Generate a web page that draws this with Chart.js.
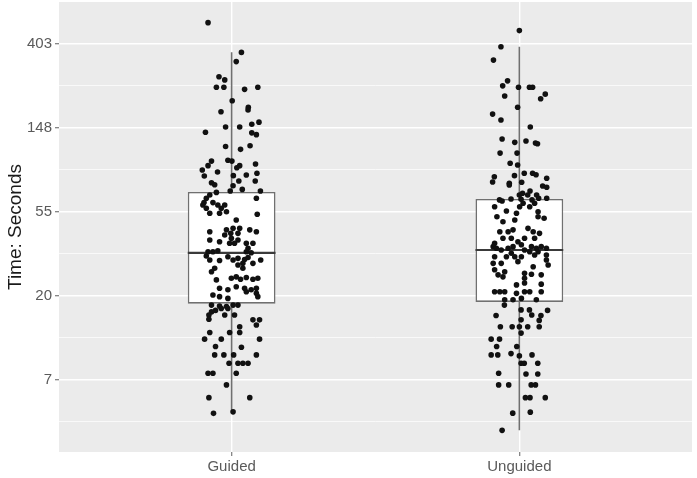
<!DOCTYPE html>
<html><head><meta charset="utf-8">
<script src="https://cdn.jsdelivr.net/npm/chart.js@4.4.1/dist/chart.umd.min.js"></script>
<style>html,body{margin:0;padding:0;background:#fff;}canvas{display:block;}</style>
</head><body>
<canvas id="c" width="697" height="478"></canvas>
<script>
const categories = ['Guided', 'Unguided'];

// Time in seconds and horizontal jitter (category units)
const guidedTimes = [520,365,327,273,263,241,241,235,241,205,190,184,180,159,155,150,150,141,140,137,
119,115,120,101,100,100,94.7,94.7,96.6,90.0,87.9,92.4,83.8,84.1,84.8,86.5,78.9,78.9,77.3,75.5,
74.6,71.4,70.1,70.1,68.9,66.8,64.2,61.0,59.3,61.0,59.3,59.3,57.0,57.0,54.7,53.7,53.7,64.2,53.1,49.6,
43.1,44.1,44.9,44.9,44.1,43.1,42.3,42.3,41.5,39.1,38.3,39.9,39.1,37.6,37.6,37.6,37.6,35.4,34.0,34.0,
34.4,34.0,33.6,32.3,30.8,30.6,32.0,30.8,31.4,31.0,31.7,30.8,29.0,29.6,29.6,27.9,27.9,26.8,24.3,24.8,
25.2,24.5,25.0,24.5,24.8,22.0,21.6,22.4,22.0,21.6,22.0,21.1,20.3,19.9,20.7,19.9,19.5,18.0,17.8,17.7,
18.0,18.0,17.3,17.3,16.6,16.9,16.0,16.0,16.0,15.2,15.1,15.1,14.2,13.9,13.0,13.0,13.0,12.0,12.0,12.0,
11.0,10.9,9.95,9.95,9.95,9.95,9.0,9.0,9.0,9.0,8.0,8.0,8.0,6.96,5.98,5.98,4.96,5.05];
const guidedJitter = [-0.082,0.034,0.016,-0.044,-0.024,-0.053,-0.027,0.045,0.091,0.002,0.058,0.057,-0.037,0.095,0.070,-0.021,0.028,-0.091,0.070,0.086,
-0.021,0.031,0.064,-0.013,0.001,-0.070,-0.082,0.028,0.083,-0.102,-0.049,0.018,-0.095,0.006,0.051,0.088,0.025,0.082,-0.070,-0.059,
0.005,0.037,-0.005,0.100,-0.053,-0.076,-0.088,-0.096,-0.100,-0.065,-0.048,-0.024,-0.036,-0.088,-0.018,-0.076,-0.042,0.086,0.089,0.016,
-0.076,-0.018,0.005,0.028,0.063,0.086,-0.003,0.022,-0.024,-0.076,-0.042,-0.001,0.022,0.010,0.051,0.074,-0.007,0.057,-0.082,-0.065,
-0.048,0.051,0.068,-0.088,-0.076,-0.042,-0.013,0.005,0.022,0.045,0.057,0.101,0.022,0.039,0.074,-0.059,0.039,-0.070,-0.053,-0.001,
0.016,0.031,0.051,0.074,0.091,-0.042,-0.013,0.016,0.045,0.068,0.086,0.051,-0.065,-0.042,0.086,0.091,-0.013,-0.070,-0.042,-0.018,
0.005,0.022,-0.036,-0.013,-0.070,-0.056,-0.079,-0.024,0.010,-0.079,0.074,0.097,0.086,0.028,0.028,-0.007,-0.076,-0.094,-0.036,0.097,
-0.056,0.034,-0.059,-0.027,0.007,0.086,-0.009,0.022,0.039,0.057,-0.082,-0.065,0.016,-0.018,-0.079,0.063,-0.063,0.005];

const unguidedTimes = [473,390,333,260,245,241,241,241,222,210,217,190,175,163,150,130,125,127,124,123,
110,110,97.4,95.5,83.0,78.0,76.8,84.1,86.5,86.5,85.0,81.5,77.7,75.3,74.4,73.2,70.1,68.2,66.8,66.8,
66.8,63.7,63.0,62.2,63.4,63.0,64.2,64.2,58.1,55.2,58.1,60.5,60.5,54.7,58.1,53.7,51.5,48.6,49.6,51.5,
50.6,43.1,43.1,44.1,44.9,43.1,42.3,39.9,39.9,39.9,39.9,38.3,37.6,36.1,35.4,34.7,35.4,36.1,36.9,36.1,
35.4,36.1,35.4,34.7,34.0,34.0,33.4,32.0,32.0,32.0,32.0,32.7,32.7,30.2,30.8,29.6,29.6,29.0,28.4,27.4,
26.8,26.3,26.0,25.8,25.8,25.2,24.8,23.4,22.9,23.1,21.1,21.1,21.1,20.7,21.1,21.1,21.1,19.2,19.2,19.5,
19.2,18.0,17.0,17.0,16.9,15.9,16.0,15.9,15.1,15.0,13.9,13.9,13.9,13.9,13.9,12.9,12.0,12.0,11.0,11.0,
9.95,9.95,10.1,9.83,9.95,9.0,9.0,9.0,8.0,7.93,7.93,6.96,6.96,6.96,6.96,5.98,5.98,5.98,4.97,5.03,4.05];
const unguidedJitter = [0.000,-0.064,-0.090,-0.041,-0.058,-0.003,0.035,0.046,0.090,0.074,-0.051,-0.006,-0.093,-0.064,0.038,-0.060,-0.016,0.023,0.056,0.063,
-0.067,-0.008,-0.032,-0.006,-0.087,-0.093,-0.035,-0.017,0.017,0.046,0.058,0.095,0.008,-0.035,0.081,0.095,0.037,0.011,0.060,0.029,
0.000,-0.029,-0.069,-0.060,0.006,0.044,0.067,0.095,-0.086,-0.045,0.001,0.013,0.053,0.065,0.036,-0.010,-0.078,-0.057,-0.016,0.065,
0.086,-0.068,-0.039,-0.022,0.030,0.048,0.070,-0.057,-0.028,0.018,0.053,-0.005,-0.086,-0.091,-0.080,-0.063,-0.039,-0.022,0.007,0.042,
0.059,0.076,0.094,0.018,0.036,0.065,-0.028,-0.086,-0.045,-0.016,0.007,0.053,0.094,-0.005,0.094,-0.091,-0.063,0.100,0.048,-0.086,
-0.051,0.018,0.042,0.076,-0.074,-0.057,0.018,0.018,-0.010,0.076,-0.086,-0.068,-0.051,-0.010,0.018,0.036,0.076,-0.051,-0.022,0.007,
0.059,-0.052,0.006,0.035,0.098,-0.081,0.043,0.075,0.006,0.069,-0.066,-0.025,0.000,0.029,0.069,0.006,-0.098,-0.069,-0.079,-0.009,
-0.098,-0.075,-0.029,0.000,0.044,0.006,0.017,0.064,-0.072,0.023,0.064,-0.072,-0.037,0.041,0.056,0.021,0.037,0.090,-0.023,0.038,-0.060];

// Box plot statistics per category (seconds)
const boxLow    = [5.0, 4.05];
const boxQ1     = [18.3, 18.7];
const boxMedian = [33.5, 34.7];
const boxQ3     = [69.3, 63.7];
const boxHigh   = [366, 390];

// Y axis (log scale) ticks
const yTickValues = [7.389, 20.09, 54.60, 148.4, 403.4];
const yTickLabels = ['7', '20', '55', '148', '403'];
const yMinorValues = [4.482, 12.18, 33.12, 90.02, 244.7];
const yMin = 3.13, yMax = 665;

const FONT = "'Liberation Sans', Arial, sans-serif";
const boxWidth = 0.305;

const toPoints = (times, jitter, pos) => times.map((t, i) => ({x: pos + jitter[i], y: t}));

const whiskerData = [], medianData = [];
categories.forEach((c, i) => {
  const p = i + 1;
  whiskerData.push({x: p, y: boxLow[i]}, {x: p, y: boxHigh[i]}, {x: p + 0.5, y: null});
  medianData.push({x: p - boxWidth / 2, y: boxMedian[i]}, {x: p + boxWidth / 2, y: boxMedian[i]}, {x: p + 0.5, y: null});
});

const panelBg = {
  id: 'panelBg',
  beforeDraw(chart) {
    const {ctx, chartArea: a} = chart;
    ctx.save();
    ctx.fillStyle = '#EBEBEB';
    ctx.fillRect(a.left, a.top, a.right - a.left, a.bottom - a.top);
    ctx.restore();
  }
};

const noPad = s => { s.paddingTop = 0; s.paddingBottom = 0; s.paddingLeft = 0; s.paddingRight = 0; };

new Chart(document.getElementById('c'), {
  type: 'scatter',
  data: {
    datasets: [
      {
        type: 'scatter', label: 'Guided',
        data: toPoints(guidedTimes, guidedJitter, 1),
        pointRadius: 2.8, pointBackgroundColor: '#111', pointBorderWidth: 0, order: 0
      },
      {
        type: 'scatter', label: 'Unguided',
        data: toPoints(unguidedTimes, unguidedJitter, 2),
        pointRadius: 2.8, pointBackgroundColor: '#111', pointBorderWidth: 0, order: 0
      },
      {
        type: 'line', label: 'median', data: medianData,
        borderColor: '#3a3a3a', borderWidth: 2.2, pointRadius: 0, fill: false, spanGaps: false, order: 1
      },
      {
        type: 'bar', label: 'box',
        data: categories.map((c, i) => ({x: i + 1, y: [boxQ1[i], boxQ3[i]]})),
        backgroundColor: '#ffffff', borderColor: '#707070', borderWidth: 1.6, borderSkipped: false,
        barPercentage: boxWidth, categoryPercentage: 1, order: 2
      },
      {
        type: 'line', label: 'whisker', data: whiskerData,
        borderColor: '#707070', borderWidth: 1.6, pointRadius: 0, fill: false, spanGaps: false, order: 3
      }
    ]
  },
  options: {
    responsive: false,
    animation: false,
    devicePixelRatio: 1,
    layout: {autoPadding: false, padding: {top: 2, right: 5, left: 0, bottom: 0}},
    plugins: {legend: {display: false}, tooltip: {enabled: false}},
    scales: {
      x: {
        type: 'linear', min: 0.4, max: 2.6, offset: false,
        afterBuildTicks: s => { s.ticks = categories.map((c, i) => ({value: i + 1})); },
        afterFit: s => { s.height = 26; noPad(s); },
        ticks: {
          autoSkip: false, maxRotation: 0, padding: 2, color: '#5a5a5a',
          font: {family: FONT, size: 15},
          callback: v => categories[Math.round(v) - 1]
        },
        grid: {offset: false, color: '#ffffff', lineWidth: 1.4, tickLength: 4, tickColor: '#7a7a7a', tickWidth: 1.2},
        border: {display: false}
      },
      y: {
        type: 'logarithmic', min: yMin, max: yMax,
        afterBuildTicks: s => {
          s.ticks = yTickValues.map(v => ({value: v}))
            .concat(yMinorValues.map(v => ({value: v, minor: true})))
            .sort((a, b) => a.value - b.value);
        },
        afterFit: s => { s.width = 59; noPad(s); },
        ticks: {
          autoSkip: false, padding: 3, color: '#5a5a5a',
          font: {family: FONT, size: 15},
          callback: (v, i, t) => (t[i] && t[i].minor) ? '' : yTickLabels[yTickValues.indexOf(v)]
        },
        grid: {
          color: '#ffffff',
          lineWidth: ctx => (ctx.tick && ctx.tick.minor) ? 0.7 : 1.4,
          tickLength: 4,
          tickColor: ctx => (ctx.tick && ctx.tick.minor) ? 'rgba(0,0,0,0)' : '#7a7a7a',
          tickWidth: 1.2
        },
        border: {display: false},
        title: {
          display: true, text: 'Time: Seconds', color: '#1a1a1a',
          font: {family: FONT, size: 19}, padding: {top: 4, bottom: 0}
        }
      }
    }
  },
  plugins: [panelBg]
});
</script>
</body></html>
